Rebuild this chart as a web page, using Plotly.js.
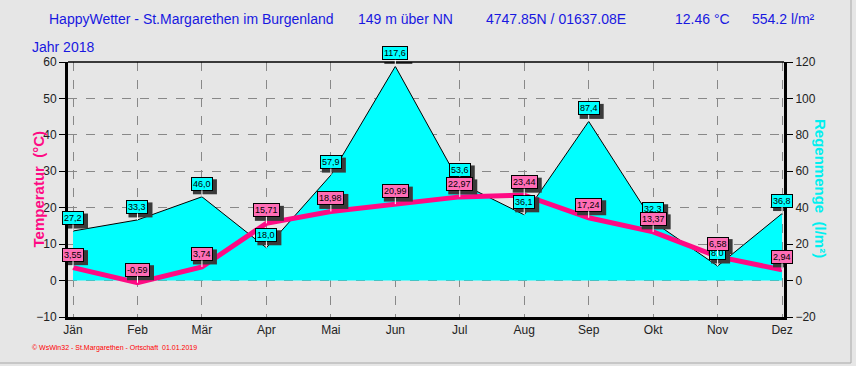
<!DOCTYPE html>
<html>
<head>
<meta charset="utf-8">
<script src="https://cdn.plot.ly/plotly-3.0.1.min.js"></script>
<style>
html,body{margin:0;padding:0;background:#e6e6e6;}
#chart{width:856px;height:366px;}
</style>
</head>
<body>
<div id="chart"></div>
<script>
const months = ["Jän","Feb","Mär","Apr","Mai","Jun","Jul","Aug","Sep","Okt","Nov","Dez"];
const temperature = [3.55,-0.59,3.74,15.71,18.98,20.99,22.97,23.44,17.24,13.37,6.58,2.94];
const rain = [27.2,33.3,46.0,18.0,57.9,117.6,53.6,36.1,87.4,32.3,8.0,36.8];
const tempTicks = [-10,0,10,20,30,40,50,60];
const rainTicks = [-20,0,20,40,60,80,100,120];

// rain on base axis (y, right side), temperature on overlaying axis (y2, left side) so the line is drawn on top
const traces = [
  {x: months, y: rain, yaxis: 'y', type: 'scatter', mode: 'lines',
   fill: 'tozeroy', fillcolor: '#00ffff', line: {color: '#000', width: 1}, hoverinfo: 'skip'},
  {x: months, y: temperature, yaxis: 'y2', type: 'scatter', mode: 'lines',
   line: {color: '#ff0a84', width: 5}, hoverinfo: 'skip'}
];

const ctx = document.createElement('canvas').getContext('2d');
ctx.font = '9px "Liberation Sans"';
const ann = [];
const shapes = [];
const LIFT = 13, BOXH = 15;
function label(xv, yv, yref, txt, bg) {
  const w = Math.ceil(ctx.measureText(txt).width) + 6;
  shapes.push({type: 'rect', xref: 'x', yref: yref, xsizemode: 'pixel', ysizemode: 'pixel',
    xanchor: xv, yanchor: yv, x0: -w / 2 + 3, x1: w / 2 + 3,
    y0: LIFT - BOXH / 2 - 3, y1: LIFT + BOXH / 2 - 3,
    fillcolor: '#3a3a3a', line: {width: 0}, layer: 'above'});
  ann.push({x: xv, y: yv, xref: 'x', yref: yref, text: txt, showarrow: true,
    ax: 0, ay: -LIFT, arrowhead: 0, arrowwidth: 1, arrowcolor: '#ffffff',
    font: {size: 9, color: '#000', family: 'Liberation Sans'},
    bgcolor: bg, bordercolor: '#000', borderwidth: 1, borderpad: 1});
}
months.forEach((m, i) => label(m, rain[i], 'y', rain[i].toFixed(1).replace('.', ','), '#00ffff'));
months.forEach((m, i) => label(m, temperature[i], 'y2', temperature[i].toFixed(2).replace('.', ','), '#ff6db6'));

const px = p => (p - 68) / 716;
const py = p => (317 - p) / 255;
const hdr = {family: 'Liberation Sans', size: 14, color: '#1818e0'};
function txt(t, x, y, font, extra) {
  ann.push(Object.assign({text: t, x: px(x), y: py(y), xref: 'paper', yref: 'paper',
    xanchor: 'left', yanchor: 'middle', showarrow: false, font: font}, extra || {}));
}
txt('HappyWetter - St.Margarethen im Burgenland', 47, 19, hdr);
txt('149 m über NN', 356, 19, hdr);
txt('4747.85N / 01637.08E', 484, 19, hdr);
txt('12.46 °C', 673, 19, hdr);
txt('554.2 l/m²', 750, 19, hdr);
txt('Jahr 2018', 30, 47, hdr);
txt('© WsWin32 - St.Margarethen - Ortschaft  01.01.2019', 30, 348,
    {family: 'Liberation Sans', size: 7, color: '#ff0000'});
ann.push({text: '<b>Temperatur  (°C)</b>', x: px(38), y: 0.5, xref: 'paper', yref: 'paper',
  xanchor: 'center', yanchor: 'middle', showarrow: false, textangle: -90,
  font: {family: 'Liberation Sans', size: 15, color: '#ff0a84'}});
ann.push({text: '<b>Regenmenge  (l/m²)</b>', x: px(821), y: py(188), xref: 'paper', yref: 'paper',
  xanchor: 'center', yanchor: 'middle', showarrow: false, textangle: 90,
  font: {family: 'Liberation Sans', size: 15, color: '#00f0f0'}});

shapes.push(
  {type: 'line', xref: 'paper', yref: 'paper', x0: 0, x1: 1, y0: 1, y1: 1, line: {color: '#000', width: 1.5}},
  {type: 'line', xref: 'paper', yref: 'paper', x0: px(851), x1: px(851), y0: py(0), y1: py(363), line: {color: '#a8a8a8', width: 1}},
  {type: 'line', xref: 'paper', yref: 'paper', x0: px(0), x1: px(851), y0: py(363), y1: py(363), line: {color: '#a8a8a8', width: 1}}
);

const tf = {family: 'Liberation Sans', size: 12, color: '#222'};
const layout = {
  width: 856, height: 366,
  paper_bgcolor: '#e6e6e6', plot_bgcolor: '#e6e6e6',
  margin: {l: 68, r: 72, t: 62, b: 49},
  showlegend: false,
  xaxis: {type: 'category', categoryorder: 'array', categoryarray: months,
    range: [-0.078, 11.03], showgrid: true, gridcolor: '#888', griddash: 'dash', gridwidth: 1,
    showline: true, linecolor: '#000', linewidth: 3, ticks: '', zeroline: false,
    tickfont: tf, fixedrange: true},
  yaxis: {range: [-20, 120], tickvals: rainTicks, side: 'right', showgrid: true, gridcolor: '#888', griddash: 'dash',
    zeroline: false, showline: true, linecolor: '#000', linewidth: 3, ticks: 'outside', ticklen: 6,
    tickcolor: '#000', tickfont: tf},
  yaxis2: {range: [-10, 60], tickvals: tempTicks, overlaying: 'y', side: 'left', showgrid: false,
    zeroline: false, showline: true, linecolor: '#000', linewidth: 3, ticks: 'outside', ticklen: 6,
    tickcolor: '#000', tickfont: tf},
  shapes: shapes,
  annotations: ann
};
Plotly.newPlot('chart', traces, layout, {staticPlot: true});
</script>
</body>
</html>
